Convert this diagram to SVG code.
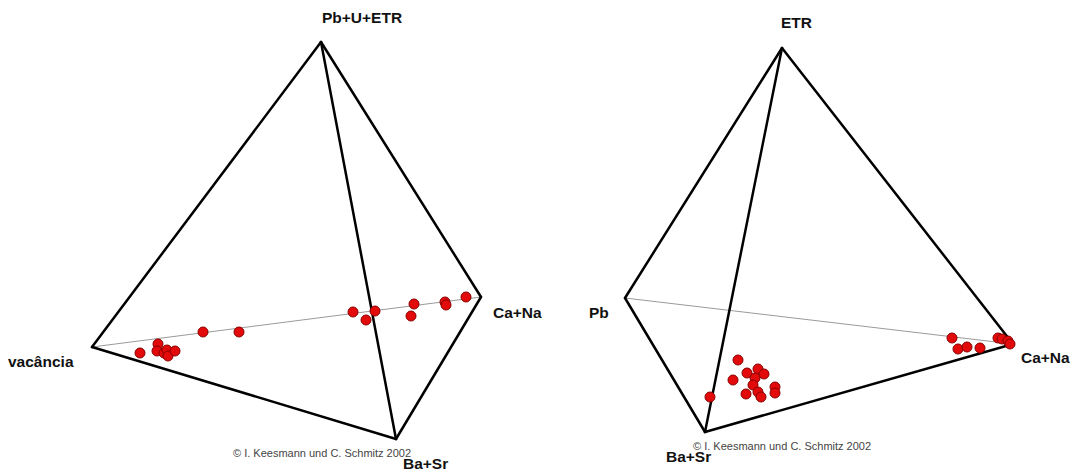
<svg xmlns="http://www.w3.org/2000/svg" width="1079" height="475" viewBox="0 0 1079 475">
<style>
.edge{stroke:#000;stroke-width:2.5;fill:none;stroke-linejoin:round;stroke-linecap:round}
.hid{stroke:#9a9a9a;stroke-width:1;fill:none}
.pt{fill:#e20a0a;stroke:#8a0000;stroke-width:1}
.lbl{font-family:"Liberation Sans",Arial,sans-serif;font-weight:bold;font-size:15.5px;fill:#111}
.cr{font-family:"Liberation Sans",Arial,sans-serif;font-size:11px;fill:#444}
</style>
<rect width="1079" height="475" fill="#fff"/>
<g id="connectors">
  <line class="hid" x1="92" y1="347" x2="481" y2="297"/>
  <line class="edge" x1="321" y1="42" x2="92" y2="347"/>
  <line class="edge" x1="321" y1="42" x2="481" y2="297"/>
  <line class="edge" x1="321" y1="42" x2="396" y2="439"/>
  <line class="edge" x1="92" y1="347" x2="396" y2="439"/>
  <line class="edge" x1="396" y1="439" x2="481" y2="297"/>
  <line class="hid" x1="625" y1="298" x2="1013" y2="344"/>
  <line class="edge" x1="782" y1="48" x2="625" y2="298"/>
  <line class="edge" x1="782" y1="48" x2="1013" y2="344"/>
  <line class="edge" x1="782" y1="48" x2="705" y2="432"/>
  <line class="edge" x1="625" y1="298" x2="705" y2="432"/>
  <line class="edge" x1="705" y1="432" x2="1013" y2="344"/>
</g>
<g id="left-labels">
  <text id="n-pbuetr" class="lbl" x="322" y="23">Pb+U+ETR</text>
  <text id="n-vacancia" class="lbl" x="8" y="367">vacância</text>
  <text id="n-cana-l" class="lbl" x="493" y="318">Ca+Na</text>
  <text id="n-basr-l" class="lbl" x="403" y="469">Ba+Sr</text>
  <text class="cr" x="233" y="457">© I. Keesmann und C. Schmitz 2002</text>
</g>
<g id="right-labels">
  <text id="n-etr" class="lbl" x="781" y="28">ETR</text>
  <text id="n-pb" class="lbl" x="589" y="318">Pb</text>
  <text id="n-cana-r" class="lbl" x="1021" y="363">Ca+Na</text>
  <text id="n-basr-r" class="lbl" x="666" y="462">Ba+Sr</text>
  <text class="cr" x="693" y="450">© I. Keesmann und C. Schmitz 2002</text>
</g>
<g id="points-left">
  <circle class="pt" cx="140" cy="353" r="5"/>
  <circle class="pt" cx="158" cy="344" r="5"/>
  <circle class="pt" cx="157" cy="351" r="5"/>
  <circle class="pt" cx="164" cy="353" r="5"/>
  <circle class="pt" cx="167" cy="350" r="5"/>
  <circle class="pt" cx="168" cy="356" r="5"/>
  <circle class="pt" cx="175" cy="351" r="5"/>
  <circle class="pt" cx="203" cy="332" r="5"/>
  <circle class="pt" cx="239" cy="332" r="5"/>
  <circle class="pt" cx="353" cy="312" r="5"/>
  <circle class="pt" cx="366" cy="320" r="5"/>
  <circle class="pt" cx="375" cy="311" r="5"/>
  <circle class="pt" cx="414" cy="304" r="5"/>
  <circle class="pt" cx="411" cy="316" r="5"/>
  <circle class="pt" cx="445" cy="302" r="5"/>
  <circle class="pt" cx="446" cy="305" r="5"/>
  <circle class="pt" cx="466" cy="297" r="5"/>
</g>
<g id="points-right">
  <circle class="pt" cx="738" cy="360" r="5"/>
  <circle class="pt" cx="733" cy="380" r="5"/>
  <circle class="pt" cx="747" cy="373" r="5"/>
  <circle class="pt" cx="758" cy="369" r="5"/>
  <circle class="pt" cx="764" cy="374" r="5"/>
  <circle class="pt" cx="755" cy="378" r="5"/>
  <circle class="pt" cx="753" cy="385" r="5"/>
  <circle class="pt" cx="746" cy="394" r="5"/>
  <circle class="pt" cx="758" cy="392" r="5"/>
  <circle class="pt" cx="761" cy="397" r="5"/>
  <circle class="pt" cx="775" cy="387" r="5"/>
  <circle class="pt" cx="775" cy="393" r="5"/>
  <circle class="pt" cx="710" cy="397" r="5"/>
  <circle class="pt" cx="952" cy="338" r="5"/>
  <circle class="pt" cx="958" cy="349" r="5"/>
  <circle class="pt" cx="967" cy="347" r="5"/>
  <circle class="pt" cx="980" cy="348" r="5"/>
  <circle class="pt" cx="998" cy="338" r="5"/>
  <circle class="pt" cx="1002" cy="339" r="5"/>
  <circle class="pt" cx="1008" cy="341" r="5"/>
  <circle class="pt" cx="1010" cy="344" r="5"/>
</g>
</svg>
